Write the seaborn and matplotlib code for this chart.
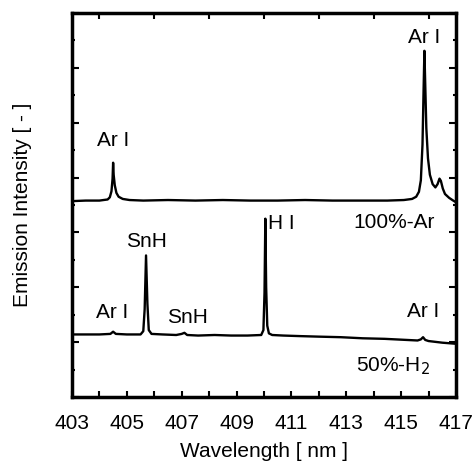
import numpy as np
import pandas as pd
import matplotlib
matplotlib.use("Agg")
import matplotlib.pyplot as plt
from matplotlib.ticker import MultipleLocator, FixedLocator
import seaborn as sns

# spectrum: 100%-Ar (upper trace)
ar_wl = [403.0, 403.5, 404.0, 404.3, 404.38, 404.44, 404.48, 404.5, 404.52, 404.56,
         404.62, 404.7, 404.85, 405.1, 405.6, 406.5, 407.5, 408.5, 409.5, 410.5,
         411.5, 412.5, 413.5, 414.5, 415.1, 415.4, 415.55, 415.65, 415.72, 415.78,
         415.82, 415.85, 415.88, 415.92, 415.98, 416.05, 416.15, 416.25, 416.33,
         416.4, 416.45, 416.52, 416.6, 416.75, 416.9, 417.0]
ar_int = [3.57, 3.58, 3.58, 3.60, 3.64, 3.75, 3.98, 4.27, 4.05, 3.86,
          3.72, 3.65, 3.61, 3.59, 3.58, 3.59, 3.58, 3.59, 3.58, 3.58,
          3.59, 3.58, 3.58, 3.58, 3.59, 3.61, 3.65, 3.74, 3.95, 4.60,
          5.60, 6.31, 5.70, 4.90, 4.35, 4.05, 3.88, 3.82, 3.88,
          3.98, 3.94, 3.80, 3.70, 3.63, 3.58, 3.55]

# 50%-H2 (lower trace)
h2_wl = [403.0, 403.5, 404.0, 404.4, 404.5, 404.6, 405.0, 405.5, 405.6, 405.65,
         405.7, 405.75, 405.8, 405.9, 406.3, 406.8, 407.0, 407.1, 407.2, 407.6,
         408.2, 408.8, 409.4, 409.9, 409.98, 410.02, 410.05, 410.08, 410.12,
         410.18, 410.3, 410.7, 411.3, 412.0, 412.8, 413.6, 414.4, 415.2, 415.6,
         415.72, 415.8, 415.88, 416.0, 416.5, 417.0]
h2_int = [1.14, 1.14, 1.14, 1.15, 1.19, 1.15, 1.14, 1.14, 1.20, 1.60,
          2.58, 1.70, 1.22, 1.15, 1.14, 1.13, 1.15, 1.17, 1.13, 1.12,
          1.13, 1.12, 1.12, 1.13, 1.22, 1.90, 3.25, 2.00, 1.30,
          1.16, 1.13, 1.12, 1.11, 1.10, 1.09, 1.07, 1.06, 1.04, 1.03,
          1.05, 1.09, 1.04, 1.02, 0.99, 0.97]

x_ticks = [403, 405, 407, 409, 411, 413, 415, 417]

sns.set_style("ticks")
plt.rcParams['font.family'] = ['Liberation Sans', 'DejaVu Sans']
plt.rcParams['text.color'] = 'black'
plt.rcParams['axes.labelcolor'] = 'black'
plt.rcParams['xtick.color'] = 'black'
plt.rcParams['ytick.color'] = 'black'
plt.rcParams['axes.edgecolor'] = 'black'

fig = plt.figure(figsize=(4.72, 4.62), dpi=100)
ax = fig.add_axes([0.1525, 0.1407, 0.8135, 0.8313])

sns.lineplot(x=ar_wl, y=ar_int, ax=ax, color="black", linewidth=1.7)
sns.lineplot(x=h2_wl, y=h2_int, ax=ax, color="black", linewidth=1.7)

ax.set_xlim(403, 417)
ax.set_ylim(0, 7)

# labels
fs = 15
ax.text(404.5, 4.67, "Ar I", ha="center", va="center", fontsize=fs)
ax.text(415.85, 6.55, "Ar I", ha="center", va="center", fontsize=fs)
ax.text(416.23, 3.18, "100%-Ar", ha="right", va="center", fontsize=fs)
ax.text(405.72, 2.84, "SnH", ha="center", va="center", fontsize=fs)
ax.text(404.45, 1.54, "Ar I", ha="center", va="center", fontsize=fs)
ax.text(407.2, 1.45, "SnH", ha="center", va="center", fontsize=fs)
ax.text(410.15, 3.16, "H I", ha="left", va="center", fontsize=fs)
ax.text(415.8, 1.56, "Ar I", ha="center", va="center", fontsize=fs)
ax.text(416.05, 0.56, "50%-H$_2$", ha="right", va="center", fontsize=fs)

ax.set_xlabel("Wavelength [ nm ]", fontsize=fs, labelpad=6)
ax.set_ylabel("Emission Intensity [ - ]", fontsize=fs, labelpad=16.5)

ax.xaxis.set_major_locator(FixedLocator(x_ticks))
ax.xaxis.set_minor_locator(FixedLocator(np.arange(404, 417, 2)))
ax.yaxis.set_major_locator(MultipleLocator(1))
ax.yaxis.set_minor_locator(MultipleLocator(0.5))
ax.set_yticklabels([])

for s in ax.spines.values():
    s.set_visible(True)
    s.set_linewidth(2.5)
    s.set_color("black")

ax.tick_params(which="both", direction="in", width=1.5, length=4,
               labelsize=fs, pad=12.5)
ax.tick_params(axis="x", which="major", top=False, bottom=True)
ax.tick_params(axis="x", which="minor", top=True, bottom=True)
ax.tick_params(axis="y", which="major", left=True, right=True, length=5)
ax.tick_params(axis="y", which="minor", left=True, right=True, length=2.5)

fig.savefig("out.png", dpi=100)
